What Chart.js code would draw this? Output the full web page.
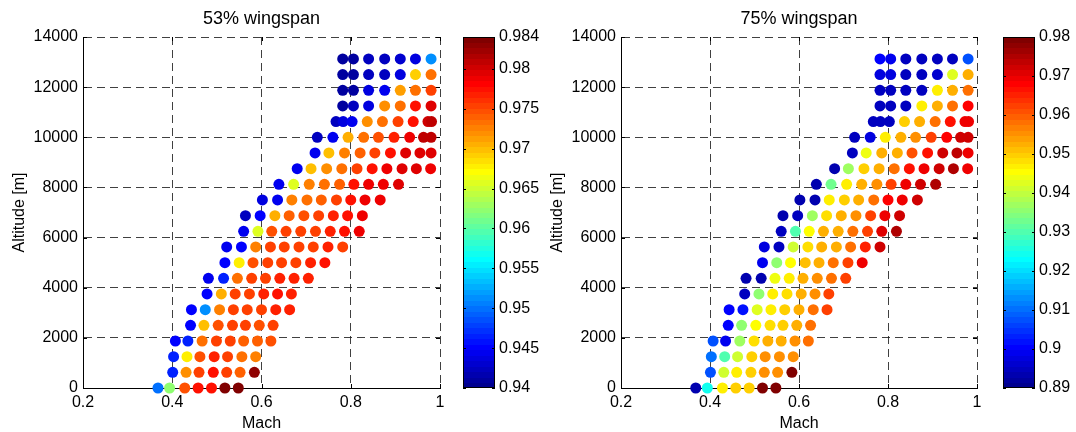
<!DOCTYPE html>
<html>
<head>
<meta charset="utf-8">
<script src="https://cdn.jsdelivr.net/npm/chart.js@4.4.1/dist/chart.umd.min.js"></script>
<style>
  html, body { margin: 0; padding: 0; background: #fff; }
  #fig { position: relative; width: 1076px; height: 432px; overflow: hidden; background: #fff; }
  #fig canvas { position: absolute; top: 0; }
</style>
</head>
<body>
<div id="fig">
  <canvas id="plot53" width="455" height="432" style="left:0px"></canvas>
  <canvas id="bar53" width="95" height="432" style="left:453px"></canvas>
  <canvas id="plot75" width="454" height="432" style="left:538px"></canvas>
  <canvas id="bar75" width="83" height="432" style="left:993px"></canvas>
</div>
<script>
// Flight envelope grid: one row per altitude, Mach numbers of the points in that row
const altitudeRows = [0, 625, 1250, 1875, 2500, 3125, 3750, 4375, 5000, 5625, 6250,
  6875, 7500, 8125, 8750, 9375, 10000, 10625, 11250, 11875, 12500, 13125];

const machRows = [
  [0.368, 0.394, 0.428, 0.458, 0.488, 0.518, 0.548],
  [0.401, 0.431, 0.460, 0.492, 0.522, 0.552, 0.584],
  [0.403, 0.433, 0.462, 0.494, 0.524, 0.556, 0.587],
  [0.407, 0.435, 0.467, 0.499, 0.530, 0.560, 0.591, 0.621],
  [0.441, 0.471, 0.503, 0.535, 0.564, 0.595, 0.626],
  [0.443, 0.474, 0.506, 0.537, 0.568, 0.600, 0.632, 0.663],
  [0.478, 0.510, 0.541, 0.573, 0.605, 0.636, 0.667],
  [0.481, 0.515, 0.546, 0.578, 0.609, 0.641, 0.673, 0.705],
  [0.518, 0.550, 0.581, 0.614, 0.645, 0.677, 0.710, 0.742],
  [0.522, 0.555, 0.587, 0.620, 0.651, 0.684, 0.716, 0.749, 0.782],
  [0.560, 0.592, 0.623, 0.655, 0.688, 0.721, 0.754, 0.786, 0.819],
  [0.564, 0.597, 0.630, 0.662, 0.695, 0.728, 0.761, 0.793, 0.826],
  [0.602, 0.636, 0.668, 0.702, 0.734, 0.768, 0.800, 0.832, 0.866],
  [0.639, 0.672, 0.707, 0.741, 0.775, 0.807, 0.840, 0.873, 0.907],
  [0.680, 0.711, 0.746, 0.780, 0.814, 0.848, 0.881, 0.915, 0.947, 0.979],
  [0.720, 0.751, 0.786, 0.821, 0.854, 0.889, 0.923, 0.955, 0.980],
  [0.725, 0.760, 0.794, 0.829, 0.862, 0.897, 0.932, 0.963, 0.980],
  [0.767, 0.783, 0.803, 0.837, 0.871, 0.906, 0.940, 0.973, 0.981],
  [0.782, 0.806, 0.840, 0.876, 0.911, 0.945, 0.980],
  [0.782, 0.806, 0.840, 0.876, 0.911, 0.945, 0.980],
  [0.782, 0.806, 0.840, 0.876, 0.911, 0.945, 0.980],
  [0.782, 0.806, 0.840, 0.876, 0.911, 0.945, 0.980]
];

// Colour values at 53% wingspan, same layout as machRows
const values53 = [
  [0.9497, 0.9620, 0.9748, 0.9774, 0.9774, 0.9840, 0.9838],
  [0.9462, 0.9717, 0.9756, 0.9778, 0.9752, 0.9739, 0.9833],
  [0.9462, 0.9675, 0.9748, 0.9765, 0.9752, 0.9730, 0.9726],
  [0.9453, 0.9464, 0.9730, 0.9756, 0.9752, 0.9739, 0.9739, 0.9748],
  [0.9453, 0.9699, 0.9748, 0.9752, 0.9752, 0.9748, 0.9752],
  [0.9453, 0.9510, 0.9726, 0.9752, 0.9752, 0.9756, 0.9765, 0.9765],
  [0.9453, 0.9704, 0.9752, 0.9752, 0.9765, 0.9774, 0.9765],
  [0.9448, 0.9462, 0.9730, 0.9752, 0.9756, 0.9765, 0.9770, 0.9765],
  [0.9453, 0.9675, 0.9748, 0.9756, 0.9756, 0.9756, 0.9765, 0.9774],
  [0.9448, 0.9453, 0.9726, 0.9752, 0.9752, 0.9752, 0.9756, 0.9765, 0.9752],
  [0.9448, 0.9655, 0.9748, 0.9752, 0.9752, 0.9752, 0.9765, 0.9774, 0.9785],
  [0.9426, 0.9453, 0.9708, 0.9739, 0.9748, 0.9752, 0.9765, 0.9774, 0.9785],
  [0.9435, 0.9448, 0.9726, 0.9734, 0.9739, 0.9756, 0.9778, 0.9785, 0.9785],
  [0.9448, 0.9660, 0.9726, 0.9730, 0.9739, 0.9774, 0.9785, 0.9785, 0.9796],
  [0.9444, 0.9699, 0.9721, 0.9730, 0.9756, 0.9776, 0.9785, 0.9796, 0.9796, 0.9785],
  [0.9444, 0.9699, 0.9726, 0.9739, 0.9756, 0.9778, 0.9796, 0.9796, 0.9796],
  [0.9426, 0.9444, 0.9708, 0.9730, 0.9748, 0.9765, 0.9785, 0.9809, 0.9809],
  [0.9426, 0.9435, 0.9444, 0.9721, 0.9730, 0.9756, 0.9778, 0.9805, 0.9809],
  [0.9409, 0.9426, 0.9440, 0.9717, 0.9730, 0.9774, 0.9796],
  [0.9409, 0.9409, 0.9440, 0.9444, 0.9712, 0.9734, 0.9756],
  [0.9409, 0.9409, 0.9426, 0.9426, 0.9440, 0.9695, 0.9730],
  [0.9409, 0.9409, 0.9426, 0.9426, 0.9431, 0.9440, 0.9510]
];

// Colour values at 75% wingspan
const values75 = [
  [0.8936, 0.9251, 0.9463, 0.9503, 0.9503, 0.9800, 0.9795],
  [0.9071, 0.9413, 0.9463, 0.9503, 0.9548, 0.9548, 0.9790],
  [0.9098, 0.9305, 0.9413, 0.9503, 0.9548, 0.9548, 0.9557],
  [0.9080, 0.8990, 0.9377, 0.9490, 0.9521, 0.9521, 0.9548, 0.9575],
  [0.8999, 0.9350, 0.9449, 0.9490, 0.9503, 0.9530, 0.9584],
  [0.8999, 0.9017, 0.9422, 0.9476, 0.9503, 0.9530, 0.9575, 0.9629],
  [0.8954, 0.9350, 0.9463, 0.9490, 0.9526, 0.9557, 0.9620],
  [0.8936, 0.8936, 0.9440, 0.9476, 0.9526, 0.9548, 0.9589, 0.9629],
  [0.8990, 0.9350, 0.9449, 0.9512, 0.9530, 0.9575, 0.9629, 0.9688],
  [0.8972, 0.8945, 0.9409, 0.9485, 0.9530, 0.9530, 0.9589, 0.9647, 0.9728],
  [0.8945, 0.9296, 0.9449, 0.9526, 0.9530, 0.9575, 0.9629, 0.9710, 0.9746],
  [0.8936, 0.8945, 0.9377, 0.9490, 0.9526, 0.9548, 0.9629, 0.9688, 0.9719],
  [0.8936, 0.8936, 0.9463, 0.9494, 0.9530, 0.9589, 0.9674, 0.9701, 0.9728],
  [0.8936, 0.9323, 0.9476, 0.9526, 0.9557, 0.9629, 0.9688, 0.9728, 0.9746],
  [0.8936, 0.9377, 0.9503, 0.9530, 0.9589, 0.9665, 0.9688, 0.9728, 0.9746, 0.9701],
  [0.8954, 0.9440, 0.9526, 0.9530, 0.9611, 0.9665, 0.9719, 0.9733, 0.9701],
  [0.8954, 0.8981, 0.9463, 0.9526, 0.9557, 0.9629, 0.9683, 0.9728, 0.9728],
  [0.8954, 0.8954, 0.8954, 0.9503, 0.9526, 0.9589, 0.9665, 0.9701, 0.9701],
  [0.8954, 0.8954, 0.8954, 0.9476, 0.9526, 0.9589, 0.9674],
  [0.8954, 0.8954, 0.8954, 0.8954, 0.9463, 0.9526, 0.9589],
  [0.8972, 0.8972, 0.8954, 0.8954, 0.8963, 0.9422, 0.9526],
  [0.8999, 0.8990, 0.8954, 0.8954, 0.8954, 0.8945, 0.9080]
];

// Axis ticks and colour limits
const machTicks = [0.2, 0.4, 0.6, 0.8, 1];
const altitudeTicks = [0, 2000, 4000, 6000, 8000, 10000, 12000, 14000];
const limits53 = [0.94, 0.984];
const limits75 = [0.89, 0.98];
const colorTicks53 = [0.94, 0.945, 0.95, 0.955, 0.96, 0.965, 0.97, 0.975, 0.98, 0.984];
const colorTicks75 = [0.89, 0.90, 0.91, 0.92, 0.93, 0.94, 0.95, 0.96, 0.97, 0.98];

const FONT = '"Liberation Sans", Arial, Helvetica, sans-serif';
const GRID = 'rgba(30,30,30,0.85)';
const NCOLORS = 64;

// Jet colormap
function jetRGB(t) {
  const c = u => Math.max(0, Math.min(1, u));
  const r = c(1.5 - Math.abs(4 * t - 3));
  const g = c(1.5 - Math.abs(4 * t - 2));
  const b = c(1.5 - Math.abs(4 * t - 1));
  return 'rgb(' + Math.round(r * 255) + ',' + Math.round(g * 255) + ',' + Math.round(b * 255) + ')';
}
function jetColor(v, lim) {
  const t = (v - lim[0]) / (lim[1] - lim[0]);
  const idx = Math.min(NCOLORS, Math.max(1, Math.floor(t * NCOLORS) + 1));
  return jetRGB(idx / NCOLORS);
}

// Short inward tick marks on all four sides of the plot box
const innerTicks = {
  id: 'innerTicks',
  beforeDatasetsDraw(chart) {
    const { ctx, chartArea: a, scales: { x, y } } = chart;
    const L = 4;
    ctx.save();
    ctx.strokeStyle = '#000';
    ctx.lineWidth = 1;
    ctx.beginPath();
    x.ticks.forEach(t => {
      const px = Math.round(x.getPixelForValue(t.value)) + 0.5;
      ctx.moveTo(px, a.bottom); ctx.lineTo(px, a.bottom - L);
      ctx.moveTo(px, a.top); ctx.lineTo(px, a.top + L);
    });
    y.ticks.forEach(t => {
      const py = Math.round(y.getPixelForValue(t.value)) + 0.5;
      ctx.moveTo(a.left, py); ctx.lineTo(a.left + L, py);
      ctx.moveTo(a.right, py); ctx.lineTo(a.right - L, py);
    });
    ctx.stroke();
    ctx.restore();
  }
};

function plotConfig(titleText, values, lim) {
  const points = [];
  const colors = [];
  altitudeRows.forEach((alt, r) => {
    machRows[r].forEach((m, j) => {
      points.push({ x: m, y: alt });
      colors.push(jetColor(values[r][j], lim));
    });
  });
  return {
    type: 'scatter',
    data: {
      datasets: [{
        data: points,
        pointBackgroundColor: colors,
        pointBorderColor: colors,
        pointBorderWidth: 0,
        pointRadius: 5.5,
        pointHoverRadius: 5.5,
        showLine: false,
        clip: false
      }]
    },
    options: {
      responsive: false,
      animation: false,
      devicePixelRatio: 1,
      events: [],
      layout: { padding: { left: 0, right: 15, top: 0, bottom: 0 } },
      plugins: {
        legend: { display: false },
        tooltip: { enabled: false },
        title: {
          display: true, text: titleText, fullSize: false, color: '#000',
          font: { family: FONT, size: 18, weight: 'normal', lineHeight: 1.2 },
          padding: { top: 8.7, bottom: 6.7 }
        }
      },
      scales: {
        x: {
          type: 'linear', min: 0.2, max: 1,
          afterBuildTicks: s => { s.ticks = machTicks.map(v => ({ value: v })); },
          afterFit: s => { s.height = 44; },
          grid: { color: GRID, lineWidth: 1, drawTicks: false },
          border: { display: true, color: '#000', width: 1, dash: [8, 5] },
          ticks: {
            color: '#000', font: { family: FONT, size: 16 }, padding: 4.5,
            maxRotation: 0, autoSkip: false,
            callback: v => String(+v.toFixed(2))
          },
          title: {
            display: true, text: 'Mach', color: '#000',
            font: { family: FONT, size: 16, lineHeight: 1 },
            padding: { top: 0, bottom: 0 }
          }
        },
        y: {
          type: 'linear', min: 0, max: 14000,
          afterBuildTicks: s => { s.ticks = altitudeTicks.map(v => ({ value: v })); },
          afterFit: s => { s.width = 83; },
          grid: { color: GRID, lineWidth: 1, drawTicks: false },
          border: { display: true, color: '#000', width: 1, dash: [8, 5] },
          ticks: {
            color: '#000', font: { family: FONT, size: 16 }, padding: 5, autoSkip: false,
            callback: v => String(v)
          },
          title: {
            display: true, text: 'Altitude [m]', color: '#000',
            font: { family: FONT, size: 16, lineHeight: 1.2 },
            padding: { top: 9.5, bottom: 0 }
          }
        }
      }
    },
    plugins: [innerTicks]
  };
}

// Colour bar: 64 bands placed with the bar's own value scale
const colorbarFill = {
  id: 'colorbarFill',
  beforeDatasetsDraw(chart) {
    const { ctx, chartArea: a, scales: { y } } = chart;
    ctx.save();
    for (let i = 0; i < NCOLORS; i++) {
      const v0 = y.min + (y.max - y.min) * i / NCOLORS;
      const v1 = y.min + (y.max - y.min) * (i + 1) / NCOLORS;
      const p0 = y.getPixelForValue(v0);
      const p1 = y.getPixelForValue(v1);
      ctx.fillStyle = jetRGB((i + 1) / NCOLORS);
      ctx.fillRect(a.left, Math.floor(p1), a.right - a.left, Math.ceil(p0) - Math.floor(p1));
    }
    ctx.strokeStyle = '#000';
    ctx.lineWidth = 1;
    ctx.strokeRect(Math.round(a.left) + 0.5, Math.round(a.top) + 0.5,
      Math.round(a.right - a.left) - 1, Math.round(a.bottom - a.top) - 1);
    ctx.beginPath();
    y.ticks.forEach(t => {
      const py = Math.round(y.getPixelForValue(t.value)) + 0.5;
      ctx.moveTo(a.left, py); ctx.lineTo(a.left + 3, py);
      ctx.moveTo(a.right, py); ctx.lineTo(a.right - 3, py);
    });
    ctx.stroke();
    ctx.restore();
  }
};

function colorbarConfig(lim, tickValues, canvasWidth) {
  return {
    type: 'scatter',
    data: { datasets: [] },
    options: {
      responsive: false,
      animation: false,
      devicePixelRatio: 1,
      events: [],
      layout: { padding: { left: 10, right: 0, top: 37, bottom: 44 } },
      plugins: { legend: { display: false }, tooltip: { enabled: false } },
      scales: {
        x: { type: 'linear', display: false, min: 0, max: 1 },
        y: {
          type: 'linear', position: 'right', min: lim[0], max: lim[1],
          afterBuildTicks: s => { s.ticks = tickValues.map(v => ({ value: v })); },
          afterFit: s => { s.width = canvasWidth - 42; },
          grid: { display: false, drawTicks: false },
          border: { display: false },
          ticks: {
            color: '#000', font: { family: FONT, size: 16 }, padding: 4, autoSkip: false,
            callback: v => String(+v.toFixed(4))
          }
        }
      }
    },
    plugins: [colorbarFill]
  };
}

new Chart(document.getElementById('plot53'), plotConfig('53% wingspan', values53, limits53));
new Chart(document.getElementById('bar53'), colorbarConfig(limits53, colorTicks53, 95));
new Chart(document.getElementById('plot75'), plotConfig('75% wingspan', values75, limits75));
new Chart(document.getElementById('bar75'), colorbarConfig(limits75, colorTicks75, 83));
</script>
</body>
</html>
